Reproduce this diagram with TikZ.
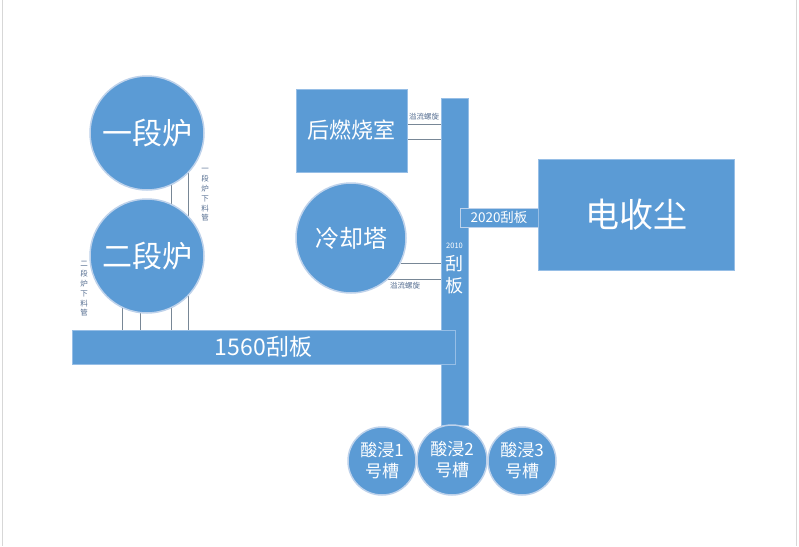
\documentclass[tikz,border=0pt]{standalone}
\usepackage{fontspec}
\setmainfont{Noto Sans CJK SC}
\usetikzlibrary{backgrounds,calc}
\definecolor{mainblue}{RGB}{91,155,213}
\definecolor{rimblue}{RGB}{190,210,235}
\definecolor{edgeblue}{RGB}{150,190,230}
\definecolor{pipegray}{RGB}{120,135,150}
\definecolor{labelblue}{RGB}{85,110,145}
\definecolor{pagegray}{RGB}{215,215,215}
\tikzset{
  unitcircle/.style={circle, fill=mainblue, draw=rimblue, line width=1.5pt, inner sep=0pt, text=white},
  unitbox/.style={rectangle, fill=mainblue, draw=edgeblue, line width=0.6pt, inner sep=0pt, text=white},
  pipe/.style={draw=pipegray, line width=0.7pt},
  smalllabel/.style={text=labelblue, font=\fontsize{7.5}{8}\selectfont, inner sep=0pt},
  vlabel/.style={text=labelblue, font=\fontsize{7.5}{9.8}\selectfont, align=center, inner sep=0pt},
}
\begin{document}
\begin{tikzpicture}[x=1pt, y=-1pt]
\useasboundingbox (0,0) rectangle (799,546);

% main units
\node[unitbox, minimum width=27pt, minimum height=327pt] (b2010) at (454.5,261.5) {};
\node[unitbox, minimum width=383pt, minimum height=34pt, font=\fontsize{23}{23}\selectfont] (b1560) at (263.5,347) {1560刮板};
\node[unitcircle, minimum size=114pt, font=\fontsize{30}{30}\selectfont] (yi) at (147,133) {一段炉};
\node[unitcircle, minimum size=114pt, font=\fontsize{30}{30}\selectfont] (er) at (147,256) {二段炉};
\node[unitbox, minimum width=111pt, minimum height=83pt, font=\fontsize{22}{22}\selectfont] (hr) at (351.5,130.5) {后燃烧室};
\node[unitcircle, minimum size=110pt, font=\fontsize{24}{24}\selectfont] (lq) at (351,238) {冷却塔};
\node[text=white, inner sep=0pt, font=\fontsize{7.5}{8}\selectfont] (t2010) at (454.5,246) {2010};
\node[text=white, inner sep=0pt, font=\fontsize{18}{22}\selectfont, align=center] (t2010b) at (454.5,275) {刮\\板};
\node[unitbox, minimum width=78pt, minimum height=19pt, font=\fontsize{13.5}{13.5}\selectfont, draw=rimblue] (b2020) at (499,217.5) {2020刮板};
\node[unitbox, minimum width=196pt, minimum height=111pt, font=\fontsize{34}{34}\selectfont] (dsc) at (636,214.5) {电收尘};

\node[unitcircle, minimum size=68pt, font=\fontsize{17}{21}\selectfont, align=center] (s1) at (382,461) {酸浸1\\号槽};
\node[unitcircle, minimum size=70pt, font=\fontsize{17}{21}\selectfont, align=center] (s2) at (452,460) {酸浸2\\号槽};
\node[unitcircle, minimum size=68pt, font=\fontsize{17}{21}\selectfont, align=center] (s3) at (522,461) {酸浸3\\号槽};

% pipes (behind units)
\coordinate (h1) at (420,124);
\coordinate (h2) at (420,139);
\begin{scope}[on background layer]
  \fill[white] (0,0) rectangle (799,546);
  \draw[pagegray, line width=0.8pt] (2,0) -- (2,546);
  \draw[pagegray, line width=0.8pt] (796.5,0) -- (796.5,546);
  \draw[pipe] (yi.-65) -- (yi.-65 |- b1560.north);
  \draw[pipe] (yi.-44) -- (yi.-44 |- b1560.north);
  \draw[pipe] (er.-115) -- (er.-115 |- b1560.north);
  \draw[pipe] (er.-97) -- (er.-97 |- b1560.north);
  \draw[pipe] (hr.east |- h1) -- (b2010.west |- h1);
  \draw[pipe] (hr.east |- h2) -- (b2010.west |- h2);
  \draw[pipe] (lq.-27) -- (b2010.west |- lq.-27);
  \draw[pipe] (lq.-48) -- (b2010.west |- lq.-48);
\end{scope}

% labels
\node[smalllabel] (lab1) at (424,117) {溢流螺旋};
\node[smalllabel] (lab2) at (405,286) {溢流螺旋};
\node[vlabel] (vl1) at (205,195) {一\\段\\炉\\下\\料\\管};
\node[vlabel] (vl2) at (84,289) {二\\段\\炉\\下\\料\\管};
\end{tikzpicture}
\end{document}
